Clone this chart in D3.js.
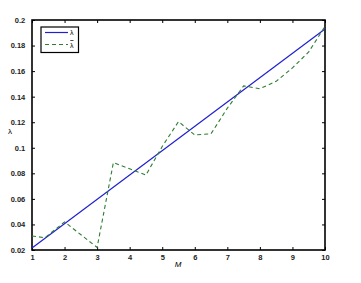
<!DOCTYPE html>
<html><head><meta charset="utf-8">
<script src="https://cdn.jsdelivr.net/npm/d3@7"></script>
<style>body{margin:0;background:#fff}svg{display:block}</style>
</head><body><svg id="c" width="361" height="283"></svg>
<script>
const xTicks = [1,2,3,4,5,6,7,8,9,10];
const yTicks = [0.02,0.04,0.06,0.08,0.1,0.12,0.14,0.16,0.18,0.2];
const lineM = [1, 10];
const lineLambda = [0.0215, 0.193];
const dashM = [1,1.4,2,3,3.5,4,4.5,5,5.5,6,6.5,7,7.5,8,8.5,9,9.5,10];
const dashLambda = [0.031,0.0296,0.042,0.022,0.0884,0.0835,0.0787,0.101,0.1205,0.110,0.111,0.131,0.1484,0.1462,0.152,0.1625,0.175,0.195];

const svg = d3.select('#c');
const L=32, R=325, T=20, B=250;
const x = d3.scaleLinear().domain([1,10]).range([L,R]);
const y = d3.scaleLinear().domain([0.02,0.2]).range([B,T]);
const fmt = d => String(+d.toFixed(2)).replace(/^0\./,'0.');
const font = 'Liberation Sans, Arial, sans-serif';

// axes
const gx = svg.append('g').attr('transform',`translate(0,${B})`)
  .call(d3.axisBottom(x).tickValues(xTicks).tickSizeInner(-3).tickSizeOuter(0).tickPadding(6).tickFormat(d3.format('d')));
const gxt = svg.append('g').attr('transform',`translate(0,${T})`)
  .call(d3.axisTop(x).tickValues(xTicks).tickSizeInner(-3).tickSizeOuter(0).tickFormat(''));
const gy = svg.append('g').attr('transform',`translate(${L},0)`)
  .call(d3.axisLeft(y).tickValues(yTicks).tickSizeInner(-3).tickSizeOuter(0).tickPadding(6).tickFormat(fmt));
const gyr = svg.append('g').attr('transform',`translate(${R},0)`)
  .call(d3.axisRight(y).tickValues(yTicks).tickSizeInner(-3).tickSizeOuter(0).tickFormat(''));
[gx,gxt,gy,gyr].forEach(g=>{
  g.select('.domain').remove();
  g.selectAll('line').attr('stroke','#000').attr('stroke-width',1);
  g.selectAll('text').attr('font-family',font).attr('font-size',7.5).attr('font-weight','bold').attr('fill','#222');
});
gx.selectAll('text').attr('dy','0.5em');
gy.selectAll('text').attr('dx','-0.1em');

svg.append('rect').attr('x',L).attr('y',T).attr('width',R-L).attr('height',B-T)
  .attr('fill','none').attr('stroke','#000').attr('stroke-width',1.6);

// data lines
const line = d3.line().x(d=>x(d[0])).y(d=>y(d[1]));
svg.append('path').datum(d3.zip(lineM,lineLambda)).attr('d',line)
  .attr('fill','none').attr('stroke','#2020d0').attr('stroke-width',1.2);
svg.append('path').datum(d3.zip(dashM,dashLambda)).attr('d',line)
  .attr('fill','none').attr('stroke','#2e7d32').attr('stroke-width',1.1).attr('stroke-dasharray','4,3');

// labels
svg.append('text').attr('x',178).attr('y',267).attr('text-anchor','middle')
  .attr('font-family',font).attr('font-size',8).attr('font-style','italic').text('M');
svg.append('text').attr('x',10).attr('y',134).attr('text-anchor','middle')
  .attr('font-family',font).attr('font-size',8).text('λ');

// legend
const lg = svg.append('g');
lg.append('rect').attr('x',41).attr('y',27).attr('width',37.5).attr('height',25.5)
  .attr('fill','#fff').attr('stroke','#000').attr('stroke-width',1.2);
lg.append('line').attr('x1',45).attr('x2',68).attr('y1',32.5).attr('y2',32.5)
  .attr('stroke','#2020d0').attr('stroke-width',1.2);
lg.append('line').attr('x1',45).attr('x2',68).attr('y1',44.5).attr('y2',44.5)
  .attr('stroke','#2e7d32').attr('stroke-width',1.1).attr('stroke-dasharray','4,3');
lg.append('text').attr('x',70).attr('y',35).attr('font-family',font).attr('font-size',7).text('λ');
lg.append('text').attr('x',70).attr('y',48).attr('font-family',font).attr('font-size',7).text('λ');
lg.append('line').attr('x1',70.3).attr('x2',73.5).attr('y1',40.5).attr('y2',40.5).attr('stroke','#000').attr('stroke-width',0.7);
</script></body></html>
